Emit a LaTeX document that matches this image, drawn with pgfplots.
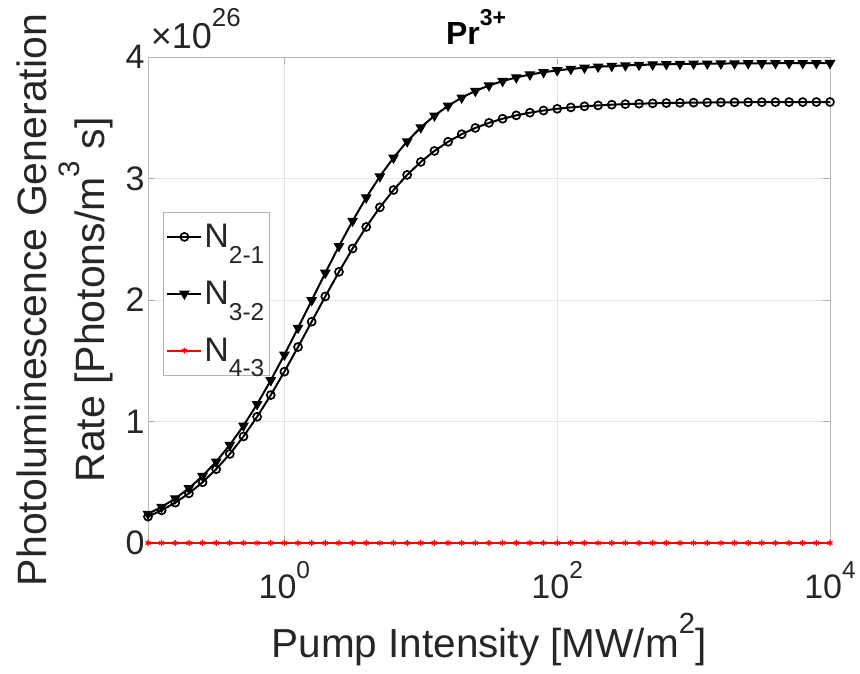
\documentclass[border=0pt]{standalone}
\usepackage{fontspec}
\setmainfont{Liberation Sans}
\usepackage{pgfplots}
\pgfplotsset{compat=1.18}
\usepackage{pgfplotstable}

% superscript / subscript in the text font, MATLAB-like placement
\newcommand\sps[1]{\raisebox{0.6em}{\fontsize{0.72em}{0.72em}\selectfont #1}}
\newcommand\sbs[1]{\raisebox{-0.45em}{\fontsize{0.72em}{0.72em}\selectfont #1}}

\pgfplotstableread{
x n21 n32 n43
0.1 0.2168 0.2394 0
0.12589 0.2688 0.2967 0
0.15849 0.3321 0.3664 0
0.19953 0.4084 0.4505 0
0.25119 0.4996 0.5509 0
0.31623 0.6073 0.6693 0
0.39811 0.7328 0.8072 0
0.50119 0.8767 0.9651 0
0.63096 1.0387 1.1427 0
0.79433 1.2175 1.3384 0
1 1.4103 1.5490 0
1.2589 1.6131 1.7703 0
1.5849 1.8213 1.9970 0
1.9953 2.0292 2.2231 0
2.5119 2.2316 2.4427 0
3.1623 2.4236 2.6507 0
3.9811 2.6015 2.8431 0
5.0119 2.7624 3.0170 0
6.3096 2.9052 3.1710 0
7.9433 3.0297 3.3051 0
10 3.1363 3.4199 0
12.589 3.2266 3.5170 0
15.849 3.3021 3.5981 0
19.953 3.3646 3.6653 0
25.119 3.4160 3.7204 0
31.623 3.4579 3.7654 0
39.811 3.4919 3.8020 0
50.119 3.5195 3.8315 0
63.096 3.5416 3.8553 0
79.433 3.5595 3.8744 0
100 3.5737 3.8897 0
125.89 3.5852 3.9020 0
158.49 3.5943 3.9117 0
199.53 3.6016 3.9195 0
251.19 3.6074 3.9258 0
316.23 3.6120 3.9307 0
398.11 3.6157 3.9347 0
501.19 3.6186 3.9378 0
630.96 3.6210 3.9403 0
794.33 3.6228 3.9423 0
1000 3.6243 3.9439 0
1258.9 3.6255 3.9451 0
1584.9 3.6264 3.9461 0
1995.3 3.6271 3.9469 0
2511.9 3.6277 3.9476 0
3162.3 3.6282 3.9481 0
3981.1 3.6286 3.9485 0
5011.9 3.6289 3.9488 0
6309.6 3.6291 3.9490 0
7943.3 3.6293 3.9492 0
10000 3.6294 3.9494 0
}\datatable

\begin{document}
\begin{tikzpicture}
\useasboundingbox (-148pt,-131pt) rectangle (712pt,543pt);
\begin{axis}[
  at={(0pt,0pt)}, anchor=south west,
  scale only axis, width=682pt, height=486pt,
  xmode=log, xmin=0.1, xmax=10000, ymin=0, ymax=4,
  xtick={1,100,10000},
  xticklabels={10\sps{0},10\sps{2},10\sps{4}},
  ytick={0,1,2,3,4},
  xminorticks=false,
  grid=major,
  major grid style={gray!20, line width=0.8pt},
  tick align=inside, major tick length=7pt,
  axis line style={gray!55, line width=0.8pt},
  tick style={gray!65, line width=0.8pt},
  every tick label/.append style={font=\fontsize{34}{36}\selectfont, text=black!85},
  yticklabel style={/pgf/number format/assume math mode=true},
  xticklabel style={anchor=base, yshift=-56pt},
  xlabel={Pump Intensity [MW/m\sps{2}]},
  ylabel={Photoluminescence Generation\\Rate [Photons/m\sps{3} s]},
  label style={font=\fontsize{41}{58}\selectfont, text=black!85},
  ylabel style={align=center, at={(axis description cs:-0.051,0.5)}, anchor=south, inner sep=0pt},
  xlabel style={font=\fontsize{40.5}{44}\selectfont, at={(axis description cs:0.5,-0.2366)}, anchor=base, inner sep=0pt},
  title={\textbf{Pr\sps{3+}}},
  title style={font=\fontsize{32}{34}\selectfont, at={(axis description cs:0.481,1)}, anchor=base, yshift=6pt, inner sep=0pt},
  clip=false,
  legend cell align=left,
  legend style={at={(rel axis cs:0.022,0.681)}, anchor=north west, draw=gray!60, line width=0.8pt, fill=white,
    font=\fontsize{34}{36}\selectfont, text=black!85, inner xsep=3pt, inner ysep=10pt, row sep=28pt},
  legend image code/.code={\draw[mark repeat=2,mark phase=2,#1] plot coordinates {(0pt,0pt) (17pt,0pt) (34pt,0pt)};},
]
\addplot[black, line width=2pt, mark=o, mark size=4pt, mark options={line width=1.7pt}] table[x=x,y=n21] {\datatable};
\addlegendentry{N\sbs{2-1}}
\addplot[black, line width=2pt, mark=triangle*, mark size=5.3pt, mark options={rotate=180, fill=black, line width=1pt}] table[x=x,y=n32] {\datatable};
\addlegendentry{N\sbs{3-2}}
\addplot[red, line width=2pt, mark=asterisk, mark size=3pt, mark options={line width=1.2pt}] table[x=x,y=n43] {\datatable};
\addlegendentry{N\sbs{4-3}}
\node[anchor=base west, inner sep=0pt, font=\fontsize{36}{38}\selectfont, text=black!85] at (rel axis cs:0.004,1.0185) {×10\sps{26}};
\end{axis}
\end{tikzpicture}
\end{document}
